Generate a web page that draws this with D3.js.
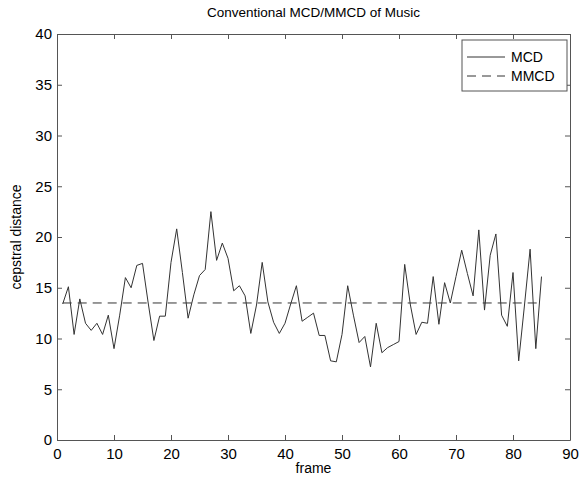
<!DOCTYPE html>
<html>
<head>
<meta charset="utf-8">
<script src="https://cdn.jsdelivr.net/npm/d3@7"></script>
<style>
  html, body { margin: 0; padding: 0; background: #fff; }
  svg { display: block; font-family: "Liberation Sans", Arial, sans-serif; }
</style>
</head>
<body>
<svg id="chart" width="579" height="481"></svg>
<script>
// Frame-by-frame cepstral distance (MCD) and its mean (MMCD)
const frames = d3.range(1, 86);
const mcdValues = [
  13.4, 15.1, 10.4, 13.9, 11.5, 10.8, 11.5, 10.4, 12.3, 9.0,
  12.3, 16.0, 15.0, 17.2, 17.4, 13.5, 9.8, 12.2, 12.2, 17.5,
  20.8, 16.5, 12.0, 14.3, 16.2, 16.8, 22.5, 17.7, 19.4, 17.9,
  14.7, 15.2, 14.2, 10.5, 13.3, 17.5, 13.6, 11.6, 10.5, 11.5,
  13.4, 15.2, 11.7, 12.1, 12.5, 10.3, 10.3, 7.8, 7.7, 10.4,
  15.2, 12.3, 9.6, 10.2, 7.2, 11.5, 8.6, 9.1, 9.4, 9.7,
  17.3, 13.3, 10.4, 11.6, 11.5, 16.1, 11.4, 15.5, 13.5, 16.1,
  18.7, 16.4, 14.2, 20.7, 12.8, 18.2, 20.3, 12.3, 11.2, 16.5,
  7.8, 13.2, 18.8, 9.0, 16.1
];
const mmcdValue = 13.5;
const xTicks = [0, 10, 20, 30, 40, 50, 60, 70, 80, 90];
const yTicks = [0, 5, 10, 15, 20, 25, 30, 35, 40];
const legendLabels = ["MCD", "MMCD"];

const svg = d3.select("#chart");
const margin = { left: 57, right: 9, top: 34, bottom: 41 };
const W = 579, H = 481;
const x = d3.scaleLinear().domain([0, 90]).range([margin.left, W - margin.right]);
const y = d3.scaleLinear().domain([0, 40]).range([H - margin.bottom, margin.top]);

const axisColor = "#555";
const tickLen = 5;

// axes with inward ticks, box style
const gx = svg.append("g").attr("transform", `translate(0,${y(0)})`)
  .call(d3.axisBottom(x).tickValues(xTicks).tickSizeInner(-tickLen).tickSizeOuter(0).tickPadding(8));
const gy = svg.append("g").attr("transform", `translate(${x(0)},0)`)
  .call(d3.axisLeft(y).tickValues(yTicks).tickSizeInner(-tickLen).tickSizeOuter(0).tickPadding(5));
const gxt = svg.append("g").attr("transform", `translate(0,${y(40)})`)
  .call(d3.axisTop(x).tickValues(xTicks).tickSizeInner(-tickLen).tickSizeOuter(0).tickFormat(""));
const gyr = svg.append("g").attr("transform", `translate(${x(90)},0)`)
  .call(d3.axisRight(y).tickValues(yTicks).tickSizeInner(-tickLen).tickSizeOuter(0).tickFormat(""));

[gx, gy, gxt, gyr].forEach(g => {
  g.select(".domain").attr("stroke", axisColor).attr("stroke-width", 1);
  g.selectAll(".tick line").attr("stroke", axisColor);
  g.selectAll(".tick text").attr("fill", "#000").style("font-size", "15px")
    .style("font-family", "'Liberation Sans', Arial, sans-serif");
});
gx.selectAll(".tick text").attr("dy", "0.71em");

// mean line (dashed)
svg.append("line")
  .attr("x1", x(frames[0])).attr("x2", x(frames[frames.length - 1]))
  .attr("y1", y(mmcdValue)).attr("y2", y(mmcdValue))
  .attr("stroke", "#333").attr("stroke-width", 1)
  .attr("stroke-dasharray", "9,6");

// per-frame distance (solid)
const line = d3.line().x((d, i) => x(frames[i])).y(d => y(d));
svg.append("path").datum(mcdValues)
  .attr("d", line)
  .attr("fill", "none").attr("stroke", "#333").attr("stroke-width", 1);

// title and axis labels
svg.append("text").attr("x", (x(0) + x(90)) / 2).attr("y", 17)
  .attr("text-anchor", "middle").style("font-size", "13.5px").text("Conventional MCD/MMCD of Music");
svg.append("text").attr("x", (x(0) + x(90)) / 2).attr("y", 473)
  .attr("text-anchor", "middle").style("font-size", "14px").text("frame");
svg.append("text")
  .attr("transform", `translate(21,${(y(0) + y(40)) / 2}) rotate(-90)`)
  .attr("text-anchor", "middle").style("font-size", "14px").text("cepstral distance");

// legend
const lg = svg.append("g");
const lx0 = 462, lx1 = 567, ly0 = 40, ly1 = 91;
lg.append("rect").attr("x", lx0).attr("y", ly0).attr("width", lx1 - lx0).attr("height", ly1 - ly0)
  .attr("fill", "#fff").attr("stroke", axisColor).attr("stroke-width", 1);
const rows = [{ label: legendLabels[0], dash: null, yy: 57 }, { label: legendLabels[1], dash: "9,6", yy: 76 }];
rows.forEach(r => {
  lg.append("line").attr("x1", lx0 + 5).attr("x2", lx0 + 43).attr("y1", r.yy).attr("y2", r.yy)
    .attr("stroke", "#333").attr("stroke-width", 1).attr("stroke-dasharray", r.dash);
  lg.append("text").attr("x", lx0 + 49).attr("y", r.yy + 5).style("font-size", "14px").text(r.label);
});
</script>
</body>
</html>
